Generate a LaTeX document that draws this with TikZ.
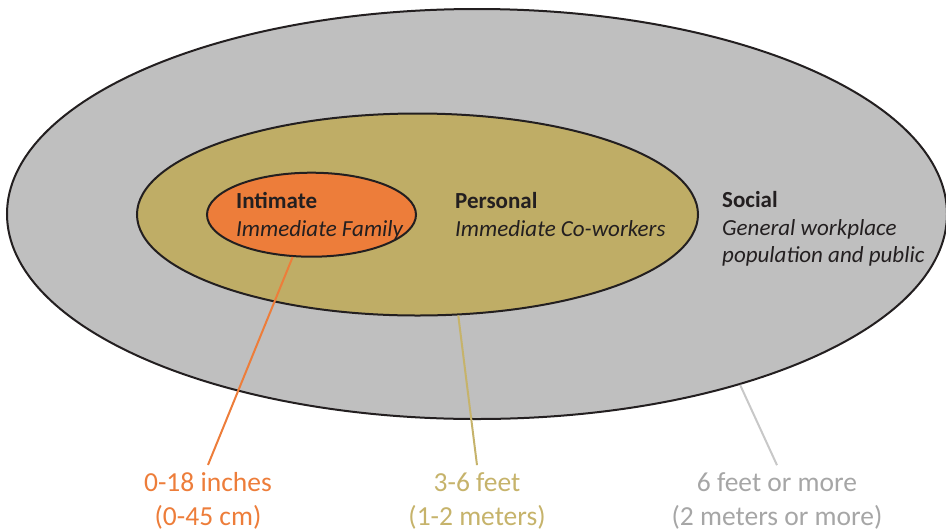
\documentclass[tikz,border=0pt]{standalone}
\usepackage{fontspec}
\setmainfont{Carlito}
\usetikzlibrary{shapes.geometric}
\definecolor{zgray}{HTML}{BFBFBF}
\definecolor{zgold}{HTML}{BFAD66}
\definecolor{zorange}{HTML}{ED7D3A}
\definecolor{tgold}{HTML}{C6B36B}
\definecolor{tgray}{HTML}{A6A6A6}
\definecolor{lgray}{HTML}{C8C8C8}
\definecolor{ink}{HTML}{231F20}
\tikzset{
  zone/.style={ellipse, draw=ink, line width=2pt, inner sep=0pt},
  toptxt/.style={anchor=base west, inner sep=0pt, text=ink, font=\fontsize{23}{27.7}\selectfont},
  btm/.style={anchor=base, inner sep=0pt, inner ysep=7.5pt, font=\fontsize{27.5}{34}\selectfont},
  conn/.style={line width=2pt}
}
\begin{document}
\begin{tikzpicture}[x=1pt,y=-1pt]
\useasboundingbox (0,0) rectangle (946,531);
\node[zone, fill=zgray, minimum width=940pt, minimum height=410pt] (social) at (477,214) {};
\node[zone, fill=zgold, minimum width=561pt, minimum height=202pt] (personal) at (417.5,214.5) {};
\node[zone, fill=zorange, minimum width=209pt, minimum height=84pt] (intimate) at (311.5,214.7) {};

\node[toptxt] (t1) at (236,208.3) {\textbf{Intimate}};
\node[toptxt] (t2) at (236,236) {\textit{Immediate Family}};
\node[toptxt] (p1) at (455,208.3) {\textbf{Personal}};
\node[toptxt] (p2) at (455,236) {\textit{Immediate Co-workers}};
\node[toptxt] (s1) at (722,207.5) {\textbf{Social}};
\node[toptxt] (s2) at (722,235.2) {\textit{General workplace}};
\node[toptxt] (s3) at (722,262.9) {\textit{population and public}};

\node[btm, text=zorange] (o1) at (208,491.7) {0-18 inches};
\node[btm, text=zorange, inner ysep=0pt] (o2) at (208,525.7) {(0-45 cm)};
\node[btm, text=tgold] (g1) at (477,491.7) {3-6 feet};
\node[btm, text=tgold, inner ysep=0pt] (g2) at (477,525.7) {(1-2 meters)};
\node[btm, text=tgray] (r1) at (777,491.7) {6 feet or more};
\node[btm, text=tgray, inner ysep=0pt] (r2) at (777,525.7) {(2 meters or more)};

\draw[conn, draw=zorange] (intimate.246) -- (o1.north);
\draw[conn, draw=tgold] (personal.292.7) -- (g1.north);
\draw[conn, draw=lgray] (social.327.5) -- (r1.north);
\end{tikzpicture}
\end{document}
